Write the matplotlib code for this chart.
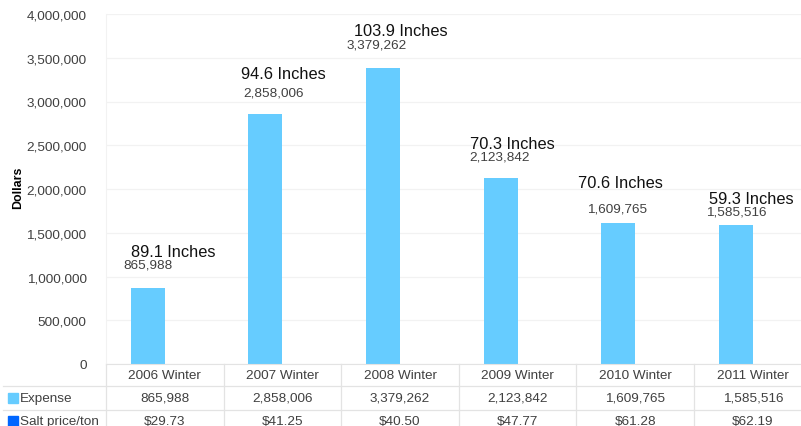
import numpy as np
import matplotlib.pyplot as plt
from matplotlib.lines import Line2D
from matplotlib.patches import Rectangle
from matplotlib.transforms import blended_transform_factory

plt.rcParams['font.family'] = ['Liberation Sans', 'DejaVu Sans']

# data
winters = ['2006 Winter', '2007 Winter', '2008 Winter', '2009 Winter', '2010 Winter', '2011 Winter']
expense = [865988, 2858006, 3379262, 2123842, 1609765, 1585516]
salt_price = [29.73, 41.25, 40.50, 47.77, 61.28, 62.19]
snowfall = [89.1, 94.6, 103.9, 70.3, 70.6, 59.3]

# hand placed label offsets (pixels) like the original text boxes
value_dx = [0, 8, -6, -1, -1, 0]
value_dy = [24, 21, 24, 22, 15, 14]
inch_dx = [25, 18, 18, 12, 2, 16]
inch_dy = [37, 40, 38, 35, 41, 27]

exp_color = '#66CCFF'
salt_color = '#0066FF'
txt_color = '#404040'
line_color = '#E3E3E3'

W, H = 801, 427
fig = plt.figure(figsize=(W / 100, H / 100), dpi=100)
ax = fig.add_axes([106 / W, 62 / H, 705.6 / W, 350 / H])

x = np.arange(len(winters))
bw = 0.289
ax.bar(x - bw / 2, expense, width=bw, color=exp_color, zorder=2)
ax.bar(x + bw / 2, salt_price, width=bw, color=salt_color, zorder=2)

ax.set_xlim(-0.5, 5.5)
ax.set_ylim(0, 4000000)
ax.set_yticks(np.arange(0, 4000001, 500000))
ax.set_yticklabels([f'{v:,}' for v in range(0, 4000001, 500000)])
ax.tick_params(axis='y', length=0, pad=14, labelsize=9.7, labelcolor=txt_color)
ax.set_xticks([])
ax.grid(axis='y', color='#F2F2F2', lw=0.9, zorder=0)
for s in ['top', 'right']:
    ax.spines[s].set_visible(False)
ax.spines['left'].set_color('#F2F2F2')
ax.spines['bottom'].set_color(line_color)
fig.text(18 / W, 1 - 188 / H, 'Dollars', rotation=90, fontsize=8.9, fontweight='bold',
         ha='center', va='center', color='black')

# labels above the bars
for i in range(len(winters)):
    xb = x[i] - bw / 2
    ax.annotate(f'{expense[i]:,}', xy=(xb, expense[i]), xytext=(value_dx[i], value_dy[i]),
                textcoords='offset pixels', ha='center', va='center', fontsize=9.7, color=txt_color)
    ax.annotate(f'{snowfall[i]} Inches', xy=(xb, expense[i]), xytext=(inch_dx[i], inch_dy[i]),
                textcoords='offset pixels', ha='center', va='center', fontsize=11.8, color='#111111')

# data table under the chart
def ya(ypix):
    return (365 - ypix) / 350

tr_data = ax.get_xaxis_transform()
tr_fig = blended_transform_factory(fig.transFigure, ax.transAxes)

for i, w in enumerate(winters):
    ax.text(i, ya(376), w, transform=tr_data, ha='center', va='center', fontsize=9.7,
            color=txt_color, clip_on=False)
    ax.text(i, ya(399), f'{expense[i]:,}', transform=tr_data, ha='center', va='center',
            fontsize=9.7, color=txt_color, clip_on=False)
    ax.text(i, ya(422), f'${salt_price[i]:.2f}', transform=tr_data, ha='center', va='center',
            fontsize=9.7, color=txt_color, clip_on=False)

for i in range(len(winters)):
    ax.add_line(Line2D([i + 0.5, i + 0.5], [0, ya(440)], transform=tr_data, color=line_color,
                       lw=0.9, clip_on=False))
ax.add_line(Line2D([-0.5, -0.5], [0, ya(440)], transform=tr_data, color=line_color, lw=0.9, clip_on=False))
for yp in [387, 411]:
    ax.add_line(Line2D([3 / W, 1.0], [ya(yp), ya(yp)], transform=tr_fig, color=line_color,
                       lw=0.9, clip_on=False))

for yp, name, col in [(399, 'Expense', exp_color), (422, 'Salt price/ton', salt_color)]:
    ax.add_patch(Rectangle((8 / W, ya(yp) - 0.0143), 10 / W, 0.0286, transform=tr_fig,
                           color=col, clip_on=False))
    ax.text(20 / W, ya(yp), name, transform=tr_fig, ha='left', va='center', fontsize=9.7,
            color=txt_color, clip_on=False)

fig.savefig('out.png', dpi=100)
